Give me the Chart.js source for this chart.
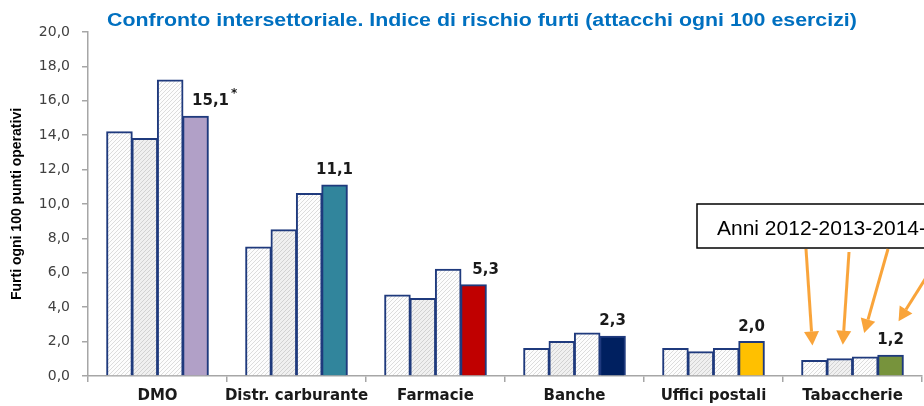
<!DOCTYPE html>
<html>
<head>
<meta charset="utf-8">
<script src="https://cdn.jsdelivr.net/npm/chart.js@4/dist/chart.umd.min.js"></script>
<style>
  html, body { margin: 0; padding: 0; background: #fff; }
  #wrap { width: 924px; height: 406px; }
</style>
</head>
<body>
<div id="wrap"><canvas id="grafico"></canvas></div>
<script>
const settori = ['DMO', 'Distr. carburante', 'Farmacie', 'Banche', 'Uffici postali', 'Tabaccherie'];
const anni = ['2012', '2013', '2014', '2015'];
const v2012 = [14.2, 7.5, 4.7, 1.6, 1.6, 0.9];
const v2013 = [13.8, 8.5, 4.5, 2.0, 1.4, 1.0];
const v2014 = [17.2, 10.6, 6.2, 2.5, 1.6, 1.1];
const v2015 = [15.1, 11.1, 5.3, 2.3, 2.0, 1.2];
const note2015 = ['*', '', '', '', '', ''];
const colori2015 = ['#B1A0C7', '#31859C', '#C00000', '#002060', '#FFC000', '#77933C'];

const titolo = 'Confronto intersettoriale. Indice di rischio furti (attacchi ogni 100 esercizi)';
const titoloAsse = 'Furti ogni 100 punti operativi';
const testoBox = 'Anni 2012-2013-2014-2015';

// spostamento orizzontale delle etichette sopra le barre 2015
const spostaEtichetta = [15, 0, 12, 0, 0, 0];

function tratteggio(fondo, linea) {
  const c = document.createElement('canvas');
  c.width = 4; c.height = 4;
  const g = c.getContext('2d');
  g.fillStyle = fondo;
  g.fillRect(0, 0, 4, 4);
  g.strokeStyle = linea;
  g.lineWidth = 1;
  g.beginPath();
  g.moveTo(0, 4); g.lineTo(4, 0);
  g.moveTo(-1, 1); g.lineTo(1, -1);
  g.moveTo(3, 5); g.lineTo(5, 3);
  g.stroke();
  return document.getElementById('grafico').getContext('2d').createPattern(c, 'repeat');
}

const bordo = '#1F3A7D';
const grigioAsse = '#A6A6A6';

function freccia(ctx, x1, y1, x2, y2) {
  const ang = Math.atan2(y2 - y1, x2 - x1);
  const lung = 14, larg = 7.5;
  const bx = x2 - lung * Math.cos(ang), by = y2 - lung * Math.sin(ang);
  ctx.beginPath();
  ctx.moveTo(x1, y1);
  ctx.lineTo(bx, by);
  ctx.stroke();
  ctx.beginPath();
  ctx.moveTo(x2, y2);
  ctx.lineTo(bx + larg * Math.sin(ang), by - larg * Math.cos(ang));
  ctx.lineTo(bx - larg * Math.sin(ang), by + larg * Math.cos(ang));
  ctx.closePath();
  ctx.fill();
}

const annotazioni = {
  id: 'annotazioni',
  afterDatasetsDraw(chart) {
    const ctx = chart.ctx;

    // etichette valori 2015
    const meta = chart.getDatasetMeta(3);
    meta.data.forEach((bar, i) => {
      const txt = v2015[i].toFixed(1).replace('.', ',');
      const x = bar.x + spostaEtichetta[i];
      const y = bar.y - 11;
      ctx.save();
      ctx.fillStyle = '#1a1a1a';
      ctx.font = 'bold 15px "DejaVu Sans"';
      ctx.textAlign = 'center';
      ctx.fillText(txt, x, y);
      if (note2015[i]) {
        const w = ctx.measureText(txt).width;
        ctx.font = 'bold 12px "DejaVu Sans"';
        ctx.textAlign = 'left';
        ctx.fillText(note2015[i], x + w / 2 + 2, y - 8);
      }
      ctx.restore();
    });

    // titolo (leggermente allargato come nell'originale)
    ctx.save();
    ctx.fillStyle = '#0070C0';
    ctx.font = 'bold 17.5px "Liberation Sans", Arial, sans-serif';
    ctx.textAlign = 'center';
    ctx.translate(482, 26);
    ctx.scale(1.22, 1);
    ctx.fillText(titolo, 0, 0);
    ctx.restore();

    // riquadro anni
    ctx.save();
    ctx.fillStyle = '#fff';
    ctx.strokeStyle = '#000';
    ctx.lineWidth = 1.5;
    ctx.fillRect(697, 204, 300, 44);
    ctx.strokeRect(697, 204, 300, 44);
    ctx.fillStyle = '#000';
    ctx.font = '21px "Liberation Sans", Arial, sans-serif';
    ctx.fillText(testoBox, 717, 235);
    ctx.restore();

    // frecce verso le barre delle tabaccherie
    const code = [[806, 249], [849, 252], [888, 249], [944, 249]];
    const punte = [[-2, -15], [3, -14], [-1, -24], [8, -34]];
    ctx.save();
    ctx.strokeStyle = '#F9A43A';
    ctx.fillStyle = '#F9A43A';
    ctx.lineWidth = 3;
    for (let d = 0; d < 4; d++) {
      const bar = chart.getDatasetMeta(d).data[5];
      freccia(ctx, code[d][0], code[d][1], bar.x + punte[d][0], bar.y + punte[d][1]);
    }
    ctx.restore();
  }
};

const sfondi = [
  tratteggio('#FDFDFD', '#DCDCDC'),
  tratteggio('#F0F0F0', '#D2D2D2'),
  tratteggio('#FDFDFD', '#DCDCDC'),
  colori2015
];
const serie = [v2012, v2013, v2014, v2015];

new Chart(document.getElementById('grafico'), {
  type: 'bar',
  data: {
    labels: settori,
    datasets: serie.map((valori, i) => ({
      label: anni[i],
      data: valori,
      backgroundColor: sfondi[i],
      borderColor: bordo,
      borderWidth: 2,
      borderSkipped: 'bottom',
      inflateAmount: 0.6,
      barPercentage: 1,
      categoryPercentage: 0.73
    }))
  },
  options: {
    responsive: true,
    maintainAspectRatio: false,
    animation: false,
    layout: { padding: { top: 32, right: 2, left: 0, bottom: 0 } },
    plugins: {
      legend: { display: false },
      tooltip: { enabled: false }
    },
    scales: {
      x: {
        afterFit: s => { s.height = 30; },
        grid: { drawOnChartArea: false, drawTicks: true, tickLength: 6, color: grigioAsse, lineWidth: 1.5 },
        border: { color: grigioAsse, width: 1.5 },
        ticks: {
          color: '#1a1a1a',
          padding: 5,
          autoSkip: false,
          font: { family: '"DejaVu Sans"', size: 15, weight: 'bold' },
          maxRotation: 0
        }
      },
      y: {
        min: 0,
        max: 20,
        afterFit: s => { s.width = 88; },
        grid: { drawOnChartArea: false, drawTicks: true, tickLength: 6, color: grigioAsse, lineWidth: 1.5 },
        border: { color: grigioAsse, width: 1.5 },
        ticks: {
          stepSize: 2,
          padding: 12,
          color: '#404040',
          font: { family: '"DejaVu Sans"', size: 14 },
          callback: v => v.toFixed(1).replace('.', ',')
        },
        title: {
          display: true,
          text: titoloAsse,
          color: '#000',
          padding: { top: 9, bottom: 0 },
          font: { family: '"Liberation Sans", Arial, sans-serif', size: 14, weight: 'bold' }
        }
      }
    }
  },
  plugins: [annotazioni]
});
</script>
</body>
</html>
